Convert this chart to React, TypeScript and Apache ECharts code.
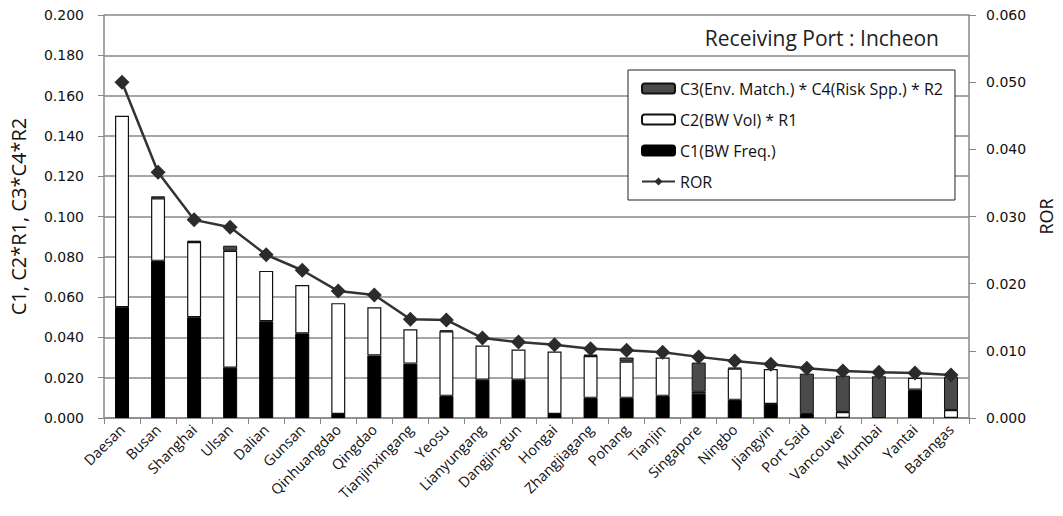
import React, { useEffect, useRef } from "react";
import * as echarts from "echarts";

const categories = [
  "Daesan", "Busan", "Shanghai", "Ulsan", "Dalian", "Gunsan", "Qinhuangdao", "Qingdao",
  "Tianjinxingang", "Yeosu", "Lianyungang", "Dangjin-gun", "Hongai", "Zhangjiagang", "Pohang",
  "Tianjin", "Singapore", "Ningbo", "Jiangyin", "Port Said", "Vancouver", "Mumbai", "Yantai", "Batangas",
];
const c1 = [0.055, 0.078, 0.050, 0.025, 0.048, 0.042, 0.002, 0.031, 0.027, 0.011, 0.019, 0.019,
  0.002, 0.010, 0.010, 0.011, 0.012, 0.009, 0.007, 0.002, 0, 0, 0.014, 0];
const c2 = [0.095, 0.031, 0.0373, 0.058, 0.025, 0.024, 0.055, 0.024, 0.017, 0.032, 0.017, 0.015,
  0.031, 0.0208, 0.018, 0.019, 0.001, 0.0155, 0.0173, 0, 0.003, 0, 0.006, 0.004];
const c3 = [0, 0.001, 0.0007, 0.0025, 0, 0, 0, 0, 0, 0.0005, 0, 0,
  0, 0.0007, 0.002, 0, 0.0145, 0.0005, 0, 0.020, 0.018, 0.0207, 0, 0.0165];
const ror = [0.050, 0.0366, 0.0295, 0.0284, 0.0243, 0.022, 0.0189, 0.0183, 0.0147, 0.0146, 0.0119, 0.0113,
  0.0109, 0.0103, 0.0101, 0.0098, 0.0091, 0.0085, 0.008, 0.0074, 0.007, 0.0068, 0.0067, 0.0064];
const leftTicks = { min: 0, max: 0.2, interval: 0.02 };
const rightTicks = { min: 0, max: 0.06, interval: 0.01 };

const names = {
  c3: "C3(Env. Match.) * C4(Risk Spp.) * R2",
  c2: "C2(BW Vol) * R1",
  c1: "C1(BW Freq.)",
  ror: "ROR",
};

const nz = (arr: number[]) => arr.map((v) => (v === 0 ? "-" : v));

export default function App() {
  const ref = useRef<HTMLDivElement>(null);
  useEffect(() => {
    if (!ref.current) return;
    const chart = echarts.init(ref.current, null, { renderer: "svg" });
    const font = "'Open Sans', Lato, sans-serif";
    const numFont = "'DejaVu Sans', sans-serif";
    const barW = 14;
    chart.setOption({
      animation: false,
      textStyle: { fontFamily: font },
      title: {
        text: "Receiving Port : Incheon",
        right: 119,
        top: 22,
        textStyle: { fontSize: 21, fontWeight: "normal", color: "#222", fontFamily: font },
      },
      legend: {
        orient: "vertical",
        left: 628,
        top: 70,
        data: [names.c3, names.c2, names.c1, names.ror],
        backgroundColor: "#fff",
        borderColor: "#222",
        borderWidth: 1,
        padding: [9, 12, 9, 13],
        itemWidth: 33,
        itemHeight: 10,
        itemGap: 12,
        textStyle: { fontSize: 16, color: "#111", fontFamily: font, lineHeight: 19 },
      },
      grid: { left: 103, right: 90, top: 15, bottom: 98 },
      xAxis: {
        type: "category",
        data: categories,
        axisLine: { lineStyle: { color: "#888", width: 1.5 } },
        axisTick: { show: true, length: 6, lineStyle: { color: "#888" } },
        axisLabel: {
          interval: 0,
          rotate: 45,
          fontSize: 14.5,
          color: "#111",
          fontFamily: font,
          margin: 9,
        },
      },
      yAxis: [
        {
          type: "value",
          ...leftTicks,
          name: "C1, C2*R1, C3*C4*R2",
          nameLocation: "middle",
          nameGap: 76,
          nameTextStyle: { fontSize: 20, color: "#111", fontFamily: font },
          axisLine: { show: true, lineStyle: { color: "#888", width: 1.5 } },
          axisTick: { show: true, length: 6, lineStyle: { color: "#888" } },
          splitLine: { show: true, lineStyle: { color: "#888", width: 1.5 } },
          axisLabel: {
            formatter: (v: number) => v.toFixed(3),
            fontSize: 14,
            color: "#111",
            fontFamily: numFont,
            margin: 20,
          },
        },
        {
          type: "value",
          ...rightTicks,
          name: "ROR",
          nameLocation: "middle",
          nameGap: 64,
          nameRotate: 90,
          nameTextStyle: { fontSize: 18, color: "#111", fontFamily: font },
          axisLine: { show: true, lineStyle: { color: "#888", width: 1.5 } },
          axisTick: { show: true, length: 7, lineStyle: { color: "#888" } },
          splitLine: { show: false },
          axisLabel: {
            formatter: (v: number) => v.toFixed(3),
            fontSize: 14,
            color: "#111",
            fontFamily: numFont,
            margin: 17,
          },
        },
      ],
      series: [
        {
          name: names.c1,
          type: "bar",
          stack: "s",
          barWidth: barW,
          data: nz(c1),
          itemStyle: { color: "#000", borderColor: "#000", borderWidth: 1 },
        },
        {
          name: names.c2,
          type: "bar",
          stack: "s",
          barWidth: barW,
          data: nz(c2),
          itemStyle: { color: "#fff", borderColor: "#111", borderWidth: 1.2 },
        },
        {
          name: names.c3,
          type: "bar",
          stack: "s",
          barWidth: barW,
          data: nz(c3),
          itemStyle: { color: "#4a4a4a", borderColor: "#111", borderWidth: 1 },
        },
        {
          name: names.ror,
          type: "line",
          yAxisIndex: 1,
          data: ror,
          symbol: "diamond",
          symbolSize: 15,
          lineStyle: { color: "#333", width: 2.5 },
          itemStyle: { color: "#2b2b2b" },
        },
      ],
    });
    return () => chart.dispose();
  }, []);
  return <div ref={ref} style={{ width: 1063, height: 516, position: "absolute", left: 0, top: 0 }} />;
}
